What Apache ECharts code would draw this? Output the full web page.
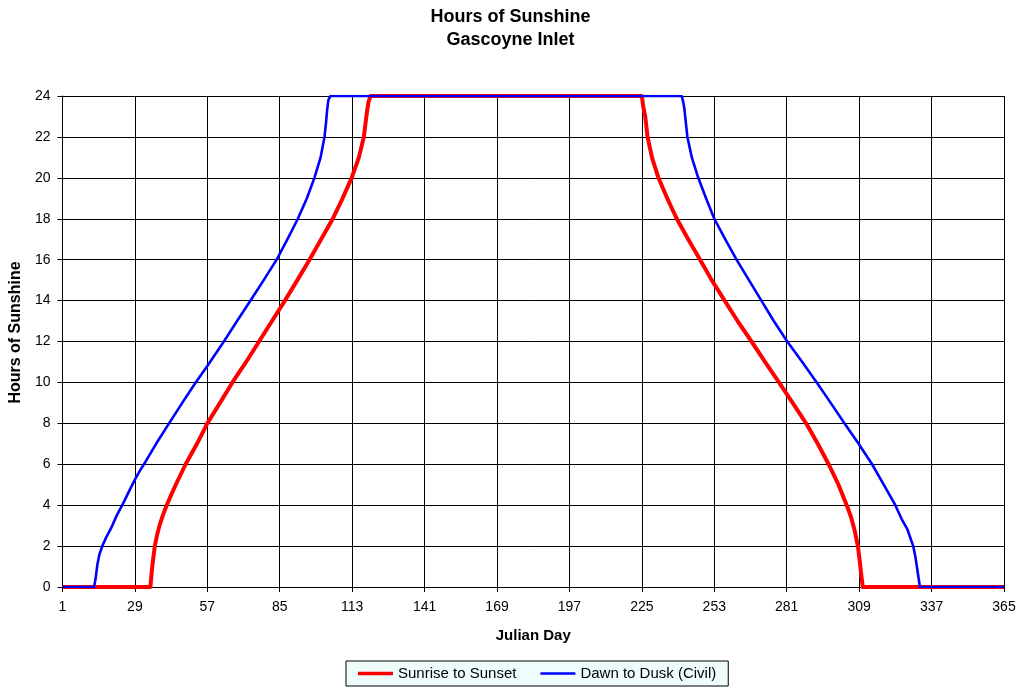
<!DOCTYPE html>
<html>
<head>
<meta charset="utf-8">
<title>Hours of Sunshine - Gascoyne Inlet</title>
<script src="https://cdn.jsdelivr.net/npm/echarts@6/dist/echarts.min.js"></script>
<style>
  html, body { margin: 0; padding: 0; background: #ffffff; }
  #chart { width: 1021px; height: 689px; }
</style>
</head>
<body>
<div id="chart"></div>
<script>
// Julian day / hours pairs for each curve
const sunriseDays = [1, 35, 35.4, 35.8, 36.7, 37.5, 38.5, 39.8, 41.3, 43, 44.8, 48.6, 53, 57, 61.9, 66.7, 72, 77, 82, 87, 91.8, 96.5, 101, 105.5, 109.3, 112.8, 115.6, 117.5, 118.2, 118.7, 119.3, 120.1,
  225, 225.5, 226.3, 227.2, 228.9, 231.4, 234.8, 238.5, 242.9, 247.5, 252, 257, 262, 267.4, 272.6, 278, 283.3, 288.5, 293, 297.2, 301, 304.2, 305.9, 307.2, 308.5, 309.3, 309.8, 310.4, 365];
const sunriseHours = [0, 0, 0.6, 1.1, 2, 2.5, 3, 3.5, 4, 4.5, 5, 6, 7, 8, 9, 10, 11, 12, 13, 14, 15, 16, 17, 18, 19, 20, 21, 22, 22.7, 23.2, 23.7, 24,
  24, 23.5, 23, 22, 21, 20, 19, 18, 17, 16, 15, 14, 13, 12, 11, 10, 9, 8, 7, 6, 5, 4, 3.4, 2.8, 2, 1.2, 0.6, 0, 0];

const civilDays = [1, 13.2, 13.8, 14.5, 15.3, 16.4, 18, 19.7, 22, 24.5, 27, 29, 31, 33, 37.2, 42.2, 47.3, 52.5, 57, 63.4, 68.5, 73.7, 78.8, 83.8, 88, 92, 95.5, 98.4, 100.8, 102.3, 102.9, 103.3, 103.8, 104.6,
  240.4, 241, 241.4, 242.6, 244.3, 246.8, 249.8, 253, 257.2, 261.6, 266.4, 271.2, 276, 281.2, 287, 292.6, 298, 303.3, 308.8, 314, 318.5, 323, 325.5, 327.7, 329.9, 330.7, 331.2, 331.9, 332.5, 365];
const civilHours = [0, 0, 0.4, 1.1, 1.6, 2, 2.45, 2.85, 3.5, 4.1, 4.75, 5.25, 5.7, 6.1, 7, 8, 9, 10, 10.8, 12, 13, 14, 15, 16, 17, 18, 19, 20, 21, 22, 22.7, 23.3, 23.8, 24,
  24, 23.7, 23.4, 22, 21, 20, 19, 18, 17, 16, 15, 14, 13, 12, 11, 10, 9, 8, 7, 6, 5, 4, 3.3, 2.8, 2, 1.5, 1.1, 0.5, 0, 0];

const seriesNames = ['Sunrise to Sunset', 'Dawn to Dusk (Civil)'];
const dayTicks = { min: 1, max: 365, step: 28 };
const hourTicks = { min: 0, max: 24, step: 2 };

const pairs = (xs, ys) => xs.map((x, i) => [x, ys[i]]);
const FONT = '"Liberation Sans", Arial, sans-serif';

const chart = echarts.init(document.getElementById('chart'), null, { renderer: 'canvas' });
chart.setOption({
  animation: false,
  backgroundColor: '#ffffff',
  title: {
    text: 'Hours of Sunshine\nGascoyne Inlet',
    left: 'center',
    top: 1,
    textStyle: { fontFamily: FONT, fontSize: 18, fontWeight: 'bold', color: '#000', lineHeight: 23 }
  },
  legend: {
    data: [
      { name: seriesNames[0], icon: 'path://M0,0h38v4h-38z' },
      { name: seriesNames[1], icon: 'path://M0,0h38v2.6h-38z' }
    ],
    left: 346,
    top: 661,
    itemWidth: 35,
    itemHeight: 4,
    itemGap: 24,
    padding: [5, 12, 5, 12],
    backgroundColor: '#eefcfc',
    borderColor: '#000',
    borderWidth: 1,
    borderRadius: 0,
    textStyle: { fontFamily: FONT, fontSize: 15, color: '#000' }
  },
  grid: { left: 62, right: 17, top: 96, bottom: 102, containLabel: false },
  xAxis: {
    type: 'value',
    min: dayTicks.min,
    max: dayTicks.max,
    interval: dayTicks.step,
    name: 'Julian Day',
    nameLocation: 'middle',
    nameGap: 41,
    nameTextStyle: { fontFamily: FONT, fontSize: 15, fontWeight: 'bold', color: '#000' },
    axisLine: { show: true, lineStyle: { color: '#000', width: 1 } },
    axisTick: { show: true, inside: false, length: 5, lineStyle: { color: '#000' } },
    axisLabel: { fontFamily: FONT, fontSize: 14, color: '#000', margin: 13 },
    splitLine: { show: true, lineStyle: { color: '#000', width: 1 } }
  },
  yAxis: {
    type: 'value',
    min: hourTicks.min,
    max: hourTicks.max,
    interval: hourTicks.step,
    name: 'Hours of Sunshine',
    nameLocation: 'middle',
    nameGap: 38,
    nameTextStyle: { fontFamily: FONT, fontSize: 16, fontWeight: 'bold', color: '#000', padding: [0, 0, 0, 18] },
    axisLine: { show: true, lineStyle: { color: '#000', width: 1 } },
    axisTick: { show: true, inside: false, length: 5, lineStyle: { color: '#000' } },
    axisLabel: { fontFamily: FONT, fontSize: 14, color: '#000', margin: 12 },
    splitLine: { show: true, lineStyle: { color: '#000', width: 1 } }
  },
  series: [
    {
      name: seriesNames[0],
      type: 'line',
      data: pairs(sunriseDays, sunriseHours),
      showSymbol: false,
      symbol: 'none',
      color: '#ff0000',
      lineStyle: { color: '#ff0000', width: 4, join: 'round' },
      z: 2
    },
    {
      name: seriesNames[1],
      type: 'line',
      data: pairs(civilDays, civilHours),
      showSymbol: false,
      symbol: 'none',
      color: '#0000ff',
      lineStyle: { color: '#0000ff', width: 2.6, join: 'round' },
      z: 3
    }
  ]
});
</script>
</body>
</html>
